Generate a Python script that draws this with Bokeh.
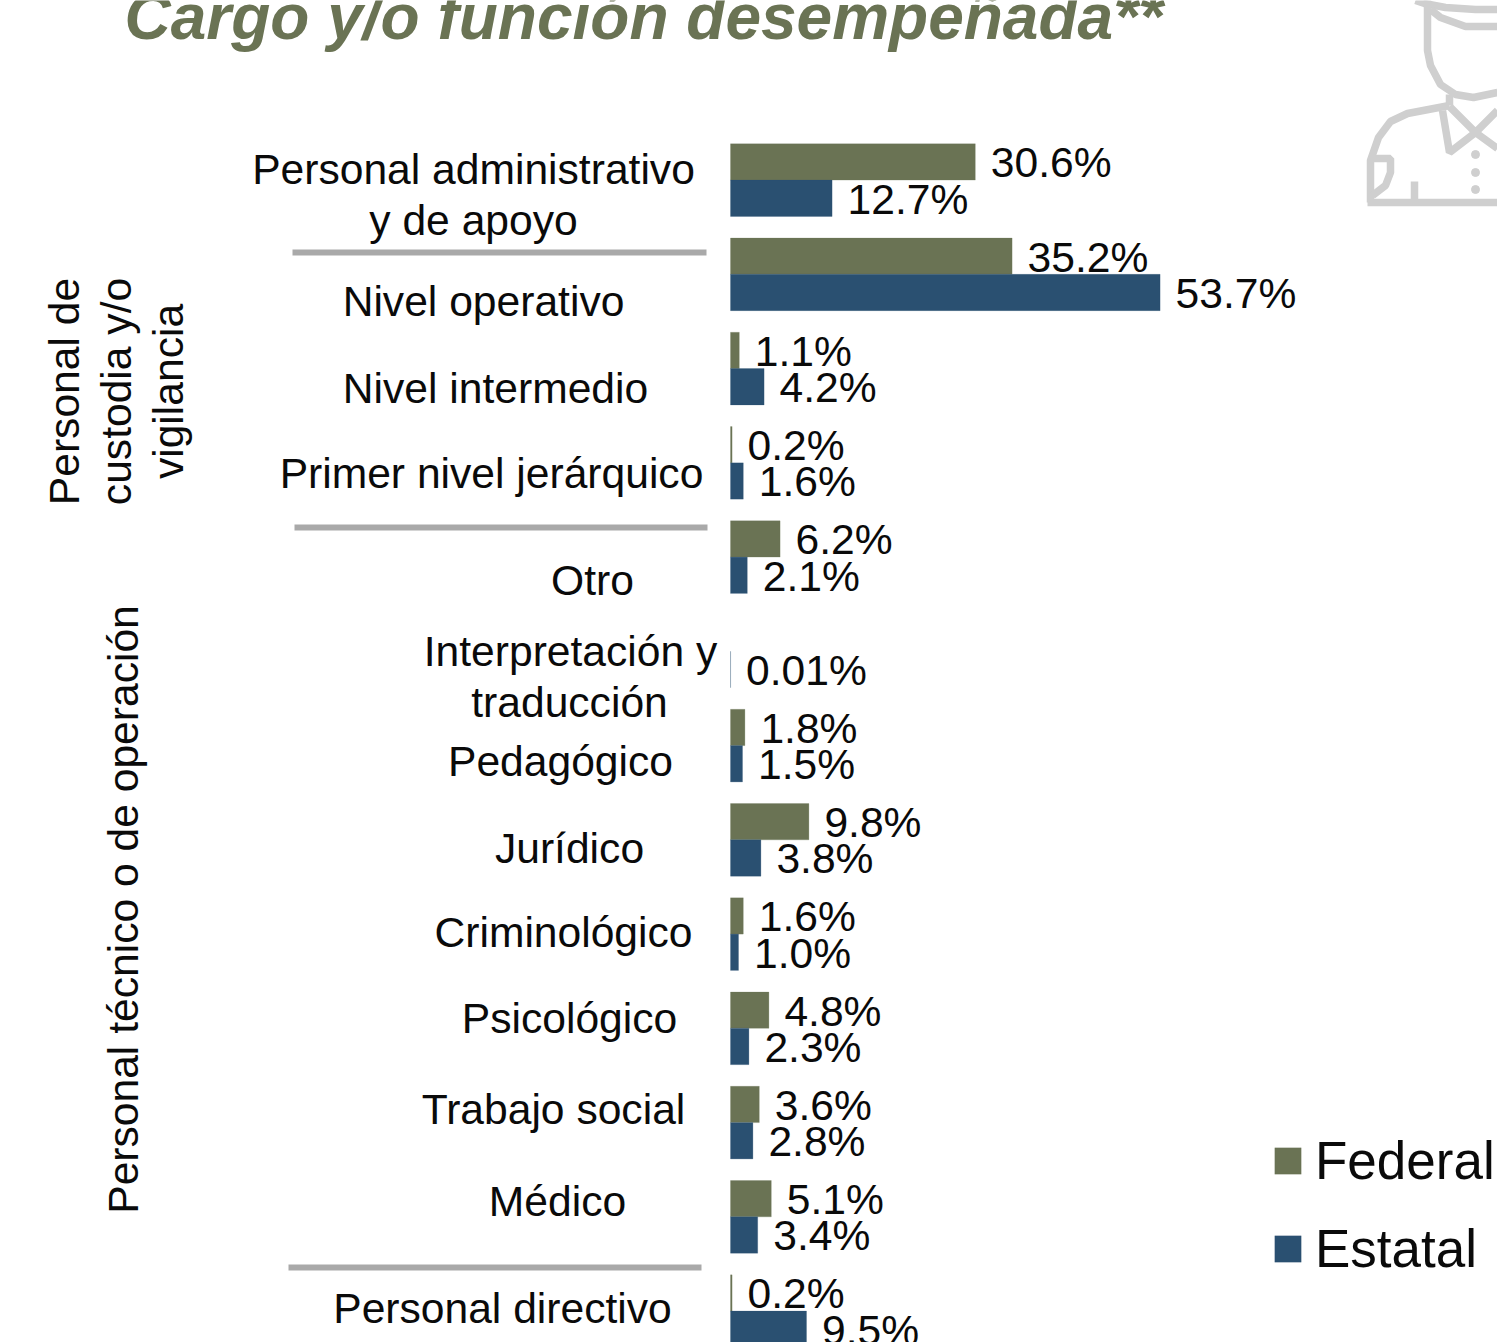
from bokeh.plotting import figure
from bokeh.models import Range1d, ColumnDataSource, Legend, LegendItem
from bokeh.core.properties import value
from bokeh.embed import file_html
from bokeh.resources import INLINE
import math

categories = ["Personal administrativo y de apoyo", "Nivel operativo", "Nivel intermedio",
              "Primer nivel jerárquico", "Otro", "Interpretación y traducción", "Pedagógico",
              "Jurídico", "Criminológico", "Psicológico", "Trabajo social", "Médico",
              "Personal directivo"]
federal = [30.6, 35.2, 1.1, 0.2, 6.2, None, 1.8, 9.8, 1.6, 4.8, 3.6, 5.1, 0.2]
estatal = [12.7, 53.7, 4.2, 1.6, 2.1, 0.01, 1.5, 3.8, 1.0, 2.3, 2.8, 3.4, 9.5]
federal_labels = ["30.6%", "35.2%", "1.1%", "0.2%", "6.2%", None, "1.8%", "9.8%", "1.6%", "4.8%", "3.6%", "5.1%", "0.2%"]
estatal_labels = ["12.7%", "53.7%", "4.2%", "1.6%", "2.1%", "0.01%", "1.5%", "3.8%", "1.0%", "2.3%", "2.8%", "3.4%", "9.5%"]

OLIVE = "#6A7354"
BLUE = "#2A5071"
GRAY = "#A9A9A9"
ICON = "#CFCFCF"
FONT = value("Liberation Sans")
W, H = 1497, 1342
X0, PXV = 730.0, 8.0
Y0, PITCH = 179.6, 94.25
BAR = 36.3 / PITCH

def dx(px): return (px - X0) / PXV
def dy(px): return (px - Y0) / PITCH

p = figure(width=W, height=H, output_backend="svg", toolbar_location=None,
           x_range=Range1d(dx(0), dx(W)), y_range=Range1d(dy(H), dy(0)),
           min_border=0, outline_line_color=None)
p.axis.visible = False
p.grid.visible = False

idx = list(range(len(categories)))
f_rows = [(i, v, l) for i, v, l in zip(idx, federal, federal_labels) if v is not None]
src_f = ColumnDataSource(dict(y=[r[0] - BAR / 2 for r in f_rows], v=[r[1] for r in f_rows], t=[r[2] for r in f_rows]))
src_e = ColumnDataSource(dict(y=[i + BAR / 2 for i in idx], v=estatal, t=estatal_labels))
rf = p.hbar(y="y", left=0, right="v", height=BAR, fill_color=OLIVE, line_color=OLIVE, line_alpha=0.3, line_width=0.8, source=src_f)
re = p.hbar(y="y", left=0, right="v", height=BAR, fill_color=BLUE, line_color=BLUE, line_alpha=0.3, line_width=0.8, source=src_e)
for s in (src_f, src_e):
    p.text(x="v", y="y", text="t", source=s, x_offset=15.5, y_offset=0.4, text_font=FONT, text_font_size="42.6px",
           text_color="#0a0a0a", text_align="left", text_baseline="middle")

# category labels, placed where the reference has them (centre x, centre y)
cat_lines = [("Personal administrativo", 473, 168), ("y de apoyo", 473, 219), ("Nivel operativo", 483, 300),
             ("Nivel intermedio", 495, 387), ("Primer nivel jerárquico", 491, 472), ("Otro", 592, 579),
             ("Interpretación y", 570, 650), ("traducción", 569, 701), ("Pedagógico", 560, 760),
             ("Jurídico", 569, 847), ("Criminológico", 563, 931), ("Psicológico", 569, 1017),
             ("Trabajo social", 553, 1108), ("Médico", 557, 1200), ("Personal directivo", 502, 1307)]
p.text(x=[dx(c[1]) for c in cat_lines], y=[dy(c[2]) for c in cat_lines], text=[c[0] for c in cat_lines],
       text_font=FONT, text_font_size="42.6px", text_color="#0a0a0a", text_align="center", text_baseline="middle")

rot = [("Personal de", 63, 391), ("custodia y/o", 115.5, 391), ("vigilancia", 167.5, 391), ("Personal técnico o de operación", 122, 909)]
p.text(x=[dx(c[1]) for c in rot], y=[dy(c[2]) for c in rot], text=[c[0] for c in rot], angle=math.pi / 2,
       text_font=FONT, text_font_size="42.6px", text_color="#0a0a0a", text_align="center", text_baseline="middle")

sep = [(292, 706, 252), (294, 707, 527), (288, 701, 1267)]
p.multi_line(xs=[[dx(a), dx(b)] for a, b, _ in sep], ys=[[dy(c), dy(c)] for _, _, c in sep],
             line_color=GRAY, line_width=6)

p.text(x=[dx(124)], y=[dy(16)], text=["Cargo y/o función desempeñada**"], text_font=FONT, text_font_style="bold italic",
       text_font_size="64px", text_color=OLIVE, text_align="left", text_baseline="alphabetic")

# uniform icon, outline only
icon = [
    [(1415, 0), (1424, 3), (1445, 7), (1475, 9), (1497, 9)],
    [(1430, 9), (1440, 17), (1465, 26), (1497, 26)],
    [(1427, 0), (1427, 50), (1430, 65), (1440, 84), (1455, 94), (1473, 97), (1497, 92)],
    [(1449, 94), (1449, 105)],
    [(1449, 105), (1407, 113), (1390, 121), (1378, 137), (1370, 160), (1370, 202)],
    [(1367, 202), (1497, 202)],
    [(1442, 110), (1449, 152), (1475, 132), (1497, 148)],
    [(1449, 106), (1475, 132), (1497, 110)],
    [(1370, 158), (1390, 158), (1390, 172), (1385, 185), (1372, 195)],
    [(1414, 181), (1414, 202)],
]
p.multi_line(xs=[[dx(a) for a, _ in l] for l in icon], ys=[[dy(b) for _, b in l] for l in icon],
             line_color=ICON, line_width=7.5)
p.scatter(x=[dx(1475)] * 3, y=[dy(154), dy(172), dy(189)], size=8, color=ICON)

legend = Legend(items=[LegendItem(label="Federal", renderers=[rf]), LegendItem(label="Estatal", renderers=[re])],
                location=(1271, 63), orientation="vertical", border_line_color=None, background_fill_alpha=0,
                padding=0, margin=0, spacing=27, glyph_width=33, glyph_height=33, label_standoff=11,
                label_height=60, label_text_font_size="53px", label_text_font="Liberation Sans",
                label_text_color="#0a0a0a", label_text_baseline="middle")
p.add_layout(legend, "center")

open("out.html", "w").write(file_html(p, INLINE))
